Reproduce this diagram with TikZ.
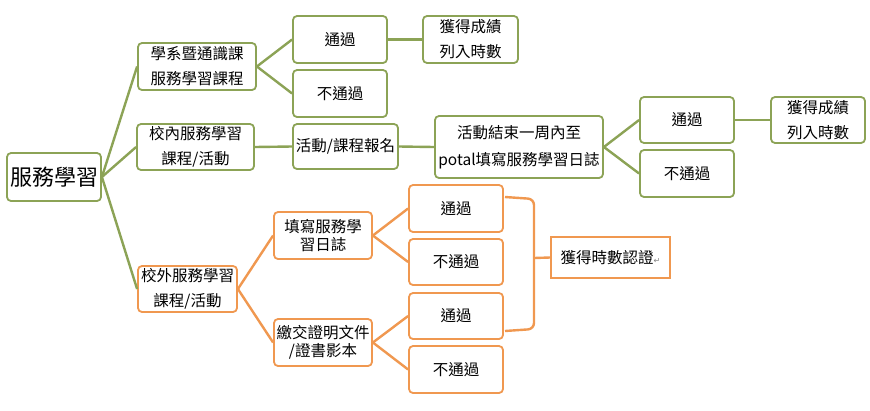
\documentclass[tikz,border=0pt]{standalone}
\usepackage{fontspec}
\setmainfont{Noto Sans CJK TC}
\newfontfamily\symfont{DejaVu Sans}
\definecolor{gline}{RGB}{140,163,86}
\definecolor{oline}{RGB}{240,152,80}
\begin{document}
\begin{tikzpicture}[x=1pt,y=-1pt,
 box/.style={draw=gline, line width=1.8pt, rounded corners=4pt, fill=white, inner sep=0pt, align=center, font=\fontsize{15.5}{25}\selectfont},
 obox/.style={box, draw=oline},
 gl/.style={draw=gline, line width=2.4pt},
 ol/.style={draw=oline, line width=2.4pt},
]
\useasboundingbox[fill=white] (0,0) rectangle (870,410);
% root
\node[box, minimum width=94pt, minimum height=48pt, font=\fontsize{22}{26}\selectfont] (root) at (54,177) {服務學習};
% branch 1
\node[box, minimum width=118pt, minimum height=47pt] (a1) at (197,66.5) {學系暨通識課\\服務學習課程};
\node[box, minimum width=94pt, minimum height=47pt] (a1p) at (340,39.5) {通過};
\node[box, minimum width=94pt, minimum height=47pt] (a1f) at (340,93.5) {不通過};
\node[box, minimum width=95pt, minimum height=47pt] (a1g) at (470.5,39.5) {獲得成績\\列入時數};
% branch 2
\node[box, minimum width=117pt, minimum height=46pt] (a2) at (195.5,147) {校內服務學習\\課程/活動};
\node[box, minimum width=105pt, minimum height=45pt] (a2a) at (345.5,146.5) {活動/課程報名};
\node[box, minimum width=168pt, minimum height=62pt, font=\fontsize{15.5}{27}\selectfont] (a2b) at (519,147) {活動結束一周內至\\potal填寫服務學習日誌};
\node[box, minimum width=94pt, minimum height=46pt] (a2p) at (687,120) {通過};
\node[box, minimum width=94pt, minimum height=47pt] (a2f) at (687,173.5) {不通過};
\node[box, minimum width=94pt, minimum height=46pt] (a2g) at (818,120) {獲得成績\\列入時數};
% branch 3
\node[obox, minimum width=99pt, minimum height=46pt] (a3) at (187.5,289) {校外服務學習\\課程/活動};
\node[obox, minimum width=98pt, minimum height=47pt, font=\fontsize{15.5}{17.5}\selectfont] (a3a) at (323,235.5) {填寫服務學\\習日誌};
\node[obox, minimum width=98pt, minimum height=47pt, font=\fontsize{15.5}{18}\selectfont] (a3b) at (323,342.5) {繳交證明文件\\/證書影本};
\node[obox, minimum width=94pt, minimum height=47pt] (b1) at (456,208.5) {通過};
\node[obox, minimum width=94pt, minimum height=46pt] (b2) at (456,262) {不通過};
\node[obox, minimum width=94pt, minimum height=46pt] (b3) at (456,316) {通過};
\node[obox, minimum width=94pt, minimum height=47pt] (b4) at (456,369.5) {不通過};
\node[obox, rounded corners=0pt, minimum width=119pt, minimum height=41pt] (c) at (610.5,257.5) {獲得時數認證{\symfont\color{gray}\fontsize{8}{8}\selectfont ↵}};
% connectors
\draw[gl] (root.east) -- (a1.west);
\draw[gl] (root.east) -- (a2.west);
\draw[gl] (root.east) -- (a3.west);
\draw[gl] (a1.east) -- (a1p.west);
\draw[gl] (a1.east) -- (a1f.west);
\draw[gl] (a1p.east) -- (a1g.west);
\draw[gl] (a2.east) -- (a2a.west);
\draw[gl] (a2a.east) -- (a2b.west);
\draw[gl] (a2b.east) -- (a2p.west);
\draw[gl] (a2b.east) -- (a2f.west);
\draw[gl] (a2p.east) -- (a2g.west);
\draw[ol] (a3.east) -- (a3a.west);
\draw[ol] (a3.east) -- (a3b.west);
\draw[ol] (a3a.east) -- (b1.west);
\draw[ol] (a3a.east) -- (b2.west);
\draw[ol] (a3b.east) -- (b3.west);
\draw[ol] (a3b.east) -- (b4.west);
% bracket
\coordinate (bt) at (505,197);
\coordinate (bb) at (505,331);
\coordinate (bm) at (534,258);
\draw[ol, rounded corners=6pt] (bt) -- (534,199) -- (534,329) -- (bb);
\draw[ol] (bm) -- (c.west);
\end{tikzpicture}
\end{document}
